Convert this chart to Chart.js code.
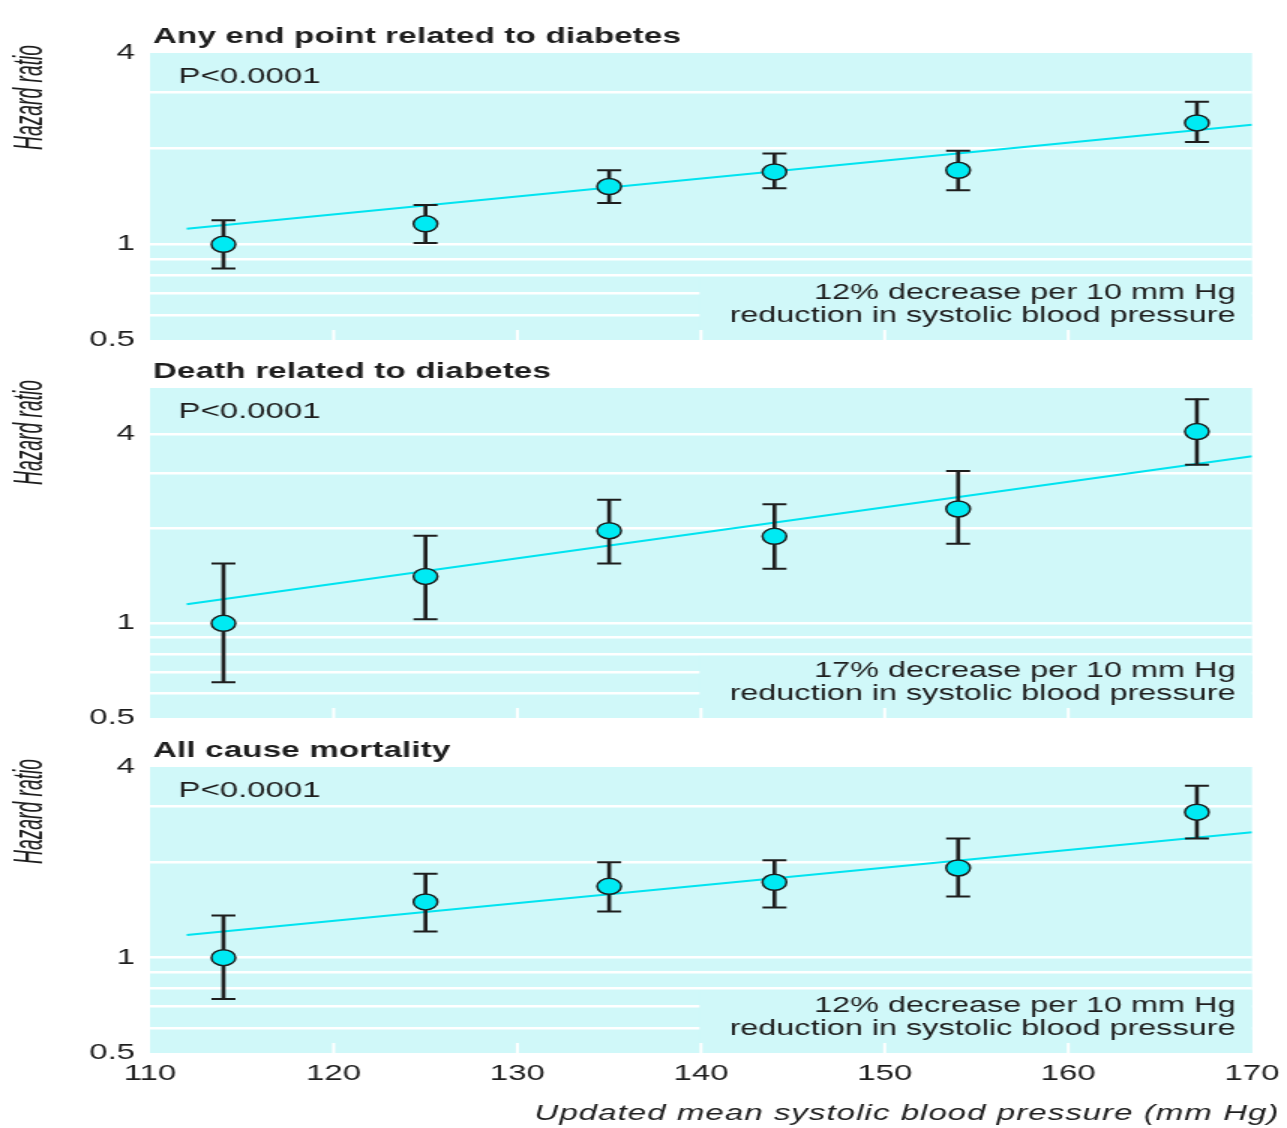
<!DOCTYPE html>
<html>
<head>
<meta charset="utf-8">
<script src="https://cdn.jsdelivr.net/npm/chart.js@4.4.1/dist/chart.umd.min.js"></script>
<style>
  html, body { margin: 0; padding: 0; background: #fff; }
  #wrap { width: 1287px; height: 1128px; overflow: hidden; }
  /* the figure is stretched 1.5x sideways, like the original scan */
  canvas { display: block; width: 1287px; }
</style>
</head>
<body>
<div id="wrap">
  <canvas id="p1" width="858" height="350" style="width:1287px;height:350px"></canvas>
  <canvas id="p2" width="858" height="375" style="width:1287px;height:375px"></canvas>
  <canvas id="p3" width="858" height="403" style="width:1287px;height:403px"></canvas>
</div>
<script>
// ---- data ----
const xs      = [114, 125, 135, 144, 154, 167];   // mean systolic BP of each group
const trendX  = [112, 170];
const xTicks  = [110, 120, 130, 140, 150, 160, 170];
const yGrid   = [0.5, 0.6, 0.7, 0.8, 0.9, 1, 2, 3, 4];
const yLabels = [0.5, 1, 4];

// Any end point related to diabetes
const hr1    = [1.0, 1.16, 1.52, 1.69, 1.71, 2.41];
const lo1    = [0.84, 1.01, 1.35, 1.50, 1.48, 2.10];
const hi1    = [1.19, 1.33, 1.71, 1.93, 1.97, 2.81];
const trend1 = [1.12, 2.38];

// Death related to diabetes
const hr2    = [1.0, 1.41, 1.97, 1.89, 2.31, 4.07];
const lo2    = [0.65, 1.03, 1.55, 1.49, 1.79, 3.19];
const hi2    = [1.55, 1.90, 2.47, 2.39, 3.05, 5.16];
const trend2 = [1.15, 3.40];

// All cause mortality
const hr3    = [1.0, 1.50, 1.68, 1.73, 1.92, 2.88];
const lo3    = [0.74, 1.21, 1.40, 1.44, 1.56, 2.38];
const hi3    = [1.36, 1.84, 2.00, 2.03, 2.38, 3.49];
const trend3 = [1.18, 2.49];

// ---- look ----
const CYAN  = '#d0f8f9';
const MARK  = '#00eaf3';
const TREND = '#00e4f0';
const INK   = '#1e1e1e';
const FONT  = '"Liberation Sans", Arial, Helvetica, sans-serif';

Chart.defaults.font.family = FONT;
Chart.defaults.font.size = 22;
Chart.defaults.color = INK;

// keep the plot box where the layout padding puts it
const noOverflow = (s) => {
  s.paddingTop = 0;
  s.paddingBottom = 0;
  s.paddingLeft = 0;
  s.paddingRight = 0;
};

/* panel background, note box, white ticks and the texts */
const decor = {
  id: 'decor',
  beforeDraw(chart) {
    const { ctx, chartArea: a } = chart;
    ctx.save();
    ctx.fillStyle = CYAN;
    ctx.fillRect(a.left, a.top, a.right - a.left, a.bottom - a.top);
    ctx.restore();
  },
  beforeDatasetsDraw(chart, args, o) {
    const { ctx, chartArea: a, scales: { x, y } } = chart;
    ctx.save();

    // box behind the note hides the lower grid lines
    const bx = x.getPixelForValue(140) - 1;
    const by = y.getPixelForValue(0.8) + 2;
    ctx.fillStyle = CYAN;
    ctx.fillRect(bx, by, a.right - bx, a.bottom - by);

    // small white ticks at the foot of the panel
    ctx.strokeStyle = '#fff';
    ctx.lineWidth = 2;
    xTicks.slice(1, -1).forEach(t => {
      const px = x.getPixelForValue(t);
      ctx.beginPath();
      ctx.moveTo(px, a.bottom);
      ctx.lineTo(px, a.bottom - 10);
      ctx.stroke();
    });

    ctx.fillStyle = INK;
    ctx.textBaseline = 'alphabetic';

    // title
    ctx.font = `bold 22px ${FONT}`;
    ctx.letterSpacing = '0.15px';
    ctx.textAlign = 'left';
    ctx.fillText(o.title, a.left + 2, a.top - 10);
    ctx.letterSpacing = '0px';

    // p value
    ctx.font = `22px ${FONT}`;
    ctx.fillText('P<0.0001', a.left + 19, a.top + 30);

    // note
    ctx.textAlign = 'right';
    ctx.font = `21.6px ${FONT}`;
    ctx.fillText(o.note, a.right - 11, a.bottom - 41);
    ctx.fillText('reduction in systolic blood pressure', a.right - 11, a.bottom - 18);

    // y axis title, condensed to the original length
    ctx.font = `italic 28px ${FONT}`;
    const w = ctx.measureText('Hazard ratio').width;
    ctx.translate(20, a.top - 8 + 52.5);
    ctx.rotate(-Math.PI / 2);
    ctx.scale(105 / w, 1);
    ctx.textAlign = 'center';
    ctx.textBaseline = 'middle';
    ctx.fillText('Hazard ratio', 0, 0);
    ctx.restore();

    if (o.xTitle) {
      ctx.save();
      ctx.font = `italic 22px ${FONT}`;
      ctx.letterSpacing = '0.7px';
      ctx.fillStyle = INK;
      ctx.textAlign = 'right';
      ctx.fillText(o.xTitle, chart.width - 5, 395);
      ctx.restore();
    }
  }
};

const makePanel = (id, p) => {
  const canvas = document.getElementById(id);
  return new Chart(canvas, {
    type: 'scatter',
    data: {
      datasets: [
        {
          type: 'line',
          data: trendX.map((x, i) => ({ x, y: p.trend[i] })),
          borderColor: TREND,
          borderWidth: 2,
          pointRadius: 0,
          order: 4
        },
        {
          type: 'bar',
          data: xs.map((x, i) => ({ x, y: [p.lo[i], p.hi[i]] })),
          backgroundColor: INK,
          borderWidth: 0,
          barThickness: 2,
          grouped: false,
          order: 3
        },
        {
          data: xs.map((x, i) => ({ x, y: p.lo[i] }))
                  .concat(xs.map((x, i) => ({ x, y: p.hi[i] }))),
          pointStyle: 'line',
          pointRadius: 8,
          borderColor: INK,
          borderWidth: 2,
          order: 2
        },
        {
          data: xs.map((x, i) => ({ x, y: p.hr[i] })),
          pointStyle: 'circle',
          pointRadius: 8,
          backgroundColor: MARK,
          borderColor: INK,
          borderWidth: 1.5,
          order: 1
        }
      ]
    },
    options: {
      responsive: false,
      devicePixelRatio: 1,
      animation: false,
      events: [],
      layout: {
        autoPadding: false,
        padding: { top: p.top, bottom: p.bottom, left: 0, right: 23.33 }
      },
      scales: {
        x: {
          type: 'linear',
          min: 110,
          max: 170,
          offset: false,
          display: p.showX,
          afterBuildTicks: s => { s.ticks = xTicks.map(v => ({ value: v })); },
          afterFit: s => {
            noOverflow(s);
            if (p.showX) s.height = 75;
          },
          grid: { display: false },
          border: { display: false },
          ticks: { padding: 0, maxRotation: 0, autoSkip: false }
        },
        y: {
          type: 'logarithmic',
          min: 0.5,
          max: p.yMax,
          afterBuildTicks: s => { s.ticks = yGrid.map(v => ({ value: v })); },
          afterFit: s => {
            noOverflow(s);
            s.width = 100;
          },
          grid: {
            drawTicks: false,
            lineWidth: 2.5,
            color: c => (c.tick && (c.tick.value === 0.5 || c.tick.value >= p.yMax)) ? 'rgba(0,0,0,0)' : '#ffffff'
          },
          border: { display: false },
          ticks: {
            padding: 10,
            autoSkip: false,
            callback: v => yLabels.includes(v) ? String(v) : ''
          }
        }
      },
      plugins: {
        legend: { display: false },
        tooltip: { enabled: false },
        decor: { title: p.title, note: p.note, xTitle: p.xTitle }
      }
    },
    plugins: [decor]
  });
};

makePanel('p1', {
  title: 'Any end point related to diabetes',
  note: '12% decrease per 10 mm Hg',
  hr: hr1, lo: lo1, hi: hi1, trend: trend1,
  yMax: 4, top: 53, bottom: 10, showX: false
});

makePanel('p2', {
  title: 'Death related to diabetes',
  note: '17% decrease per 10 mm Hg',
  hr: hr2, lo: lo2, hi: hi2, trend: trend2,
  yMax: 5.6, top: 38, bottom: 7, showX: false
});

makePanel('p3', {
  title: 'All cause mortality',
  note: '12% decrease per 10 mm Hg',
  xTitle: 'Updated mean systolic blood pressure (mm Hg)',
  hr: hr3, lo: lo3, hi: hi3, trend: trend3,
  yMax: 4, top: 42, bottom: 0, showX: true
});
</script>
</body>
</html>
